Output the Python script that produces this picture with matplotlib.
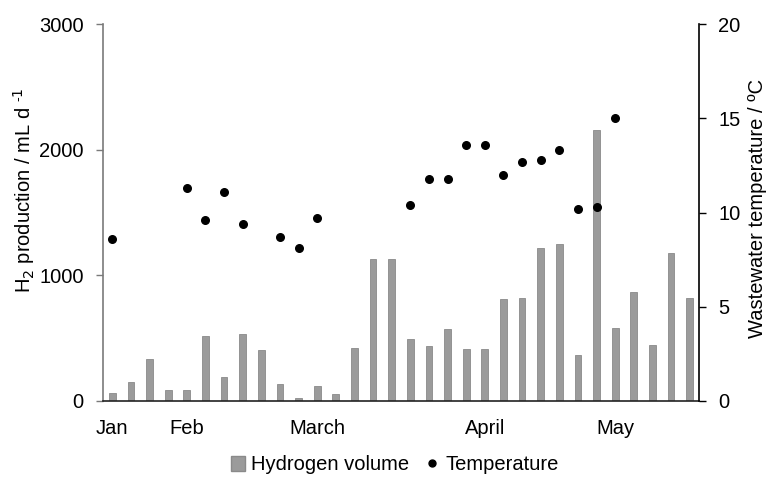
import numpy as np
import matplotlib
matplotlib.use("Agg")
import matplotlib.pyplot as plt
from matplotlib.lines import Line2D
from matplotlib.patches import Patch

plt.rcParams['font.family'] = ['Liberation Sans', 'DejaVu Sans']

# 32 sampling days (category axis)
tick_labels = ["Jan", "", "", "", "Feb", "", "", "", "", "", "", "March", "", "", "", "",
               "", "", "", "", "April", "", "", "", "", "", "", "May", "", "", "", ""]
hydrogen = [61, 153, 333, 85, 85, 518, 193, 537, 402, 135, 21, 116, 56, 423, 1129, 1129,
            493, 440, 570, 417, 417, 808, 822, 1215, 1250, 370, 2155, 578, 870, 442, 1180, 818]
temperature = [8.6, np.nan, np.nan, np.nan, 11.3, 9.6, 11.1, 9.4, np.nan, 8.7, 8.1, 9.7,
               np.nan, np.nan, np.nan, np.nan, 10.4, 11.8, 11.8, 13.6, 13.6, 12.0, 12.7, 12.8,
               13.3, 10.2, 10.3, 15.0, np.nan, np.nan, np.nan, np.nan]

x = np.arange(len(hydrogen))
FS = 14.5

fig = plt.figure(figsize=(7.68, 4.93), dpi=100)
ax = fig.add_axes([103/768, 1-401/493, (699-103)/768, (401-24)/493])
ax2 = ax.twinx()

ax.bar(x, hydrogen, width=0.36, color='#9b9b9b', edgecolor='#8a8a8a', linewidth=0.6, zorder=2)
ax2.scatter(x, temperature, s=30, color='black', zorder=3)

ax.set_xlim(-0.5, len(x) - 0.5)
ax.set_ylim(0, 3000)
ax.set_yticks([0, 1000, 2000, 3000])
ax2.set_ylim(0, 20)
ax2.set_yticks([0, 5, 10, 15, 20])

ax.set_xticks(x)
ax.set_xticklabels(tick_labels)
ax.tick_params(axis='x', length=0, pad=13, labelsize=FS)
ax.tick_params(axis='y', length=5, width=1, color='#7a7a7a', pad=9, labelsize=FS)
ax2.tick_params(axis='y', length=5, width=1, color='black', pad=9, labelsize=FS)

for a in (ax, ax2):
    a.spines['top'].set_visible(False)
ax.spines['left'].set_color('#7a7a7a')
ax.spines['left'].set_linewidth(1.2)
ax.spines['right'].set_visible(False)
ax2.spines['left'].set_visible(False)
ax2.spines['bottom'].set_visible(False)
ax2.spines['right'].set_color('black')
ax2.spines['right'].set_linewidth(1.2)
ax.spines['bottom'].set_color('#222222')
ax.spines['bottom'].set_linewidth(1.2)

ax.set_ylabel("H$_2$ production / mL d $^{\\mathregular{\u2010}1}$", fontsize=FS)
ax.yaxis.set_label_coords((37 - 103) / 596, (401 - 190) / 377)
ax2.set_ylabel("Wastewater temperature / ºC", fontsize=FS)
ax2.yaxis.set_label_coords((748 - 103) / 596, (401 - 208) / 377)

handles = [Patch(facecolor='#9b9b9b', edgecolor='#8a8a8a', label='Hydrogen volume'),
           Line2D([], [], marker='o', linestyle='none', color='black', markersize=5,
                  label='Temperature')]
fig.legend(handles=handles, loc='center', bbox_to_anchor=(395/768, 1-465/493), ncol=2,
           frameon=False, fontsize=FS, handlelength=0.7, handletextpad=0.3,
           columnspacing=0.8)

fig.savefig("out.png", dpi=100)
